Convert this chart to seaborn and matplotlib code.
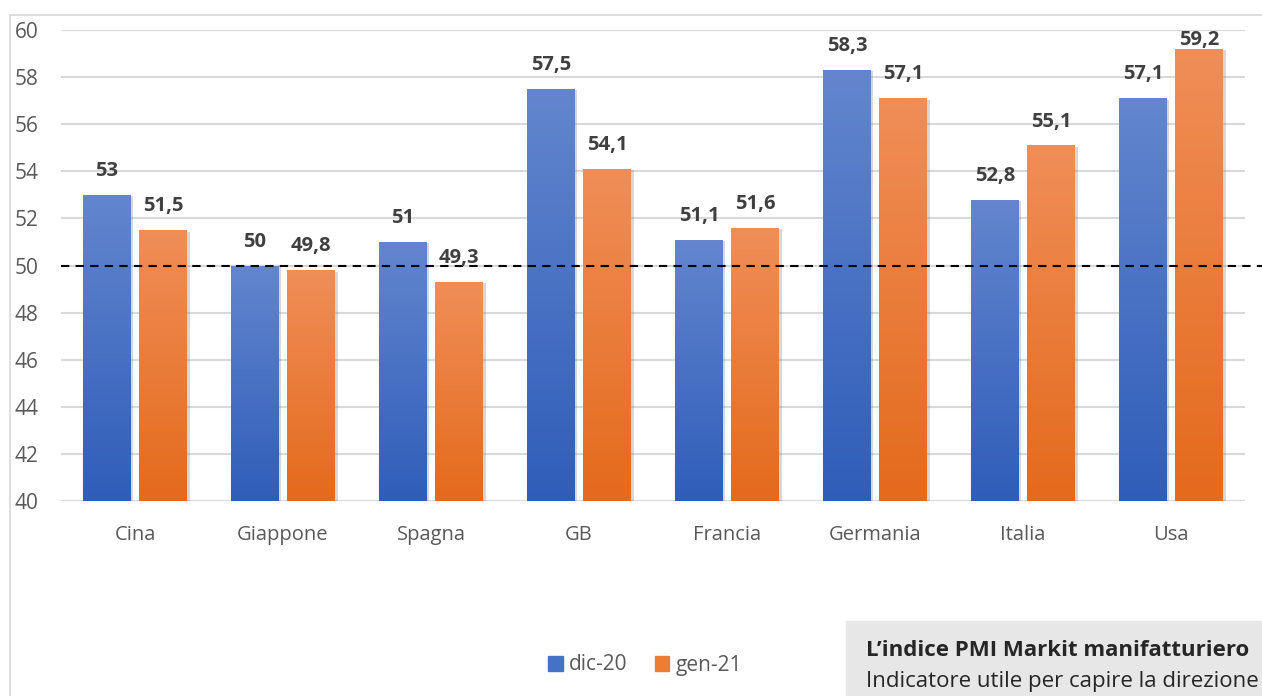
import numpy as np
import pandas as pd
import matplotlib
matplotlib.use("Agg")
import matplotlib.pyplot as plt
import matplotlib.patheffects as pe
from matplotlib.patches import Rectangle
from matplotlib.colors import LinearSegmentedColormap
import seaborn as sns

# dati PMI manifatturiero
paesi = ["Cina", "Giappone", "Spagna", "GB", "Francia", "Germania", "Italia", "Usa"]
dic_20 = [53, 50, 51, 57.5, 51.1, 58.3, 52.8, 57.1]
gen_21 = [51.5, 49.8, 49.3, 54.1, 51.6, 57.1, 55.1, 59.2]
serie = ["dic-20", "gen-21"]
soglia = 50

df = pd.DataFrame({
    "paese": paesi * 2,
    "valore": dic_20 + gen_21,
    "serie": [serie[0]] * len(paesi) + [serie[1]] * len(paesi),
})

sns.set_theme(style="white")
plt.rcParams["font.family"] = ["Open Sans", "DejaVu Sans"]

W, H = 1262, 696
fig = plt.figure(figsize=(W / 100, H / 100), dpi=100)
ax = fig.add_axes([61 / W, 1 - 501 / H, 1184 / W, 471 / H])

colori = {"dic-20": "#4472C4", "gen-21": "#ED7D31"}
gradienti = {
    "dic-20": ("#2F5DB9", "#6386CE"),
    "gen-21": ("#E46A1C", "#F08E58"),
}

sns.barplot(data=df, x="paese", y="valore", hue="serie", palette=colori,
            width=0.76, gap=0.16, ax=ax, legend=False, zorder=2,
            linewidth=0, edgecolor="none")
ymin, ymax = 40, 60
ax.set_ylim(ymin, ymax)
ax.set_yticks(range(ymin, ymax + 1, 2))
ax.set_xlim(-0.5, len(paesi) - 0.5)

# riempimento sfumato + ombra + etichette
for cont, nome in zip(ax.containers, serie):
    cmap = LinearSegmentedColormap.from_list(nome, gradienti[nome])
    for bar, v in zip(cont, cont.datavalues):
        x0 = bar.get_x()
        x1 = x0 + bar.get_width()
        bar.set_path_effects([pe.SimplePatchShadow(offset=(2, -1), shadow_rgbFace="#7f7f7f", alpha=0.3),
                              pe.Normal()])
        grad = np.linspace(0, 1, 256).reshape(-1, 1)
        im = ax.imshow(grad, cmap=cmap, origin="lower", aspect="auto",
                       extent=[x0, x1, ymin, v], zorder=3)
        im.set_clip_path(bar)
        testo = f"{v:g}".replace(".", ",")
        xc = x0 + bar.get_width() / 2
        if v > ymax - 1.2:
            # etichetta spinta dentro l'area del grafico
            ax.annotate(testo, (xc, ymax), ha="center", va="top", fontsize=14.5,
                        fontweight="bold", color="#404040", zorder=5, annotation_clip=False)
        else:
            ax.annotate(testo, (xc, v), xytext=(0, 10), textcoords="offset points",
                        ha="center", va="bottom", fontsize=14.5, fontweight="bold",
                        color="#404040", zorder=5)

ax.set_xlim(-0.5, len(paesi) - 0.5)
ax.set_ylim(ymin, ymax)

# linea tratteggiata a 50
ax.axhline(soglia, xmin=0, xmax=1.02, color="black", lw=1.5,
           ls=(0, (4, 3)), clip_on=False, zorder=4)

ax.grid(axis="y", color="#D9D9D9", lw=1.5, zorder=0)
ax.set_axisbelow(True)
for s in ax.spines.values():
    s.set_visible(False)
ax.set_xlabel("")
ax.set_ylabel("")
ax.tick_params(axis="y", length=0, pad=16, labelsize=15, labelcolor="#595959")
ax.tick_params(axis="x", length=0, pad=17, labelsize=14.5, labelcolor="#595959")

# cornice esterna
fig.patches.append(Rectangle((10 / W, -0.1), 1.2, 1 - 15 / H + 0.1,
                             transform=fig.transFigure, fill=False,
                             ec="#D9D9D9", lw=1.2))

# legenda
handles = [Rectangle((0, 0), 1, 1, color=colori[s]) for s in serie]
fig.legend(handles, serie, loc="center", bbox_to_anchor=(645 / W, 1 - 665 / H),
           ncol=2, frameon=False, fontsize=15, handlelength=0.7, handleheight=0.7,
           handletextpad=0.3, columnspacing=1.3, labelcolor="#595959")

# riquadro di testo
fig.patches.append(Rectangle((846 / W, -0.1), 1.0, 0.1 + 1 - 621 / H,
                             transform=fig.transFigure, color="#E7E7E7", zorder=0))
fig.text(866 / W, 1 - 650 / H, "L’indice PMI Markit manifatturiero", fontsize=16,
         fontweight="bold", color="#262626", va="center")
fig.text(866 / W, 1 - 681 / H, "Indicatore utile per capire la direzione", fontsize=16,
         color="#262626", va="center")

fig.savefig("out.png", dpi=100)
